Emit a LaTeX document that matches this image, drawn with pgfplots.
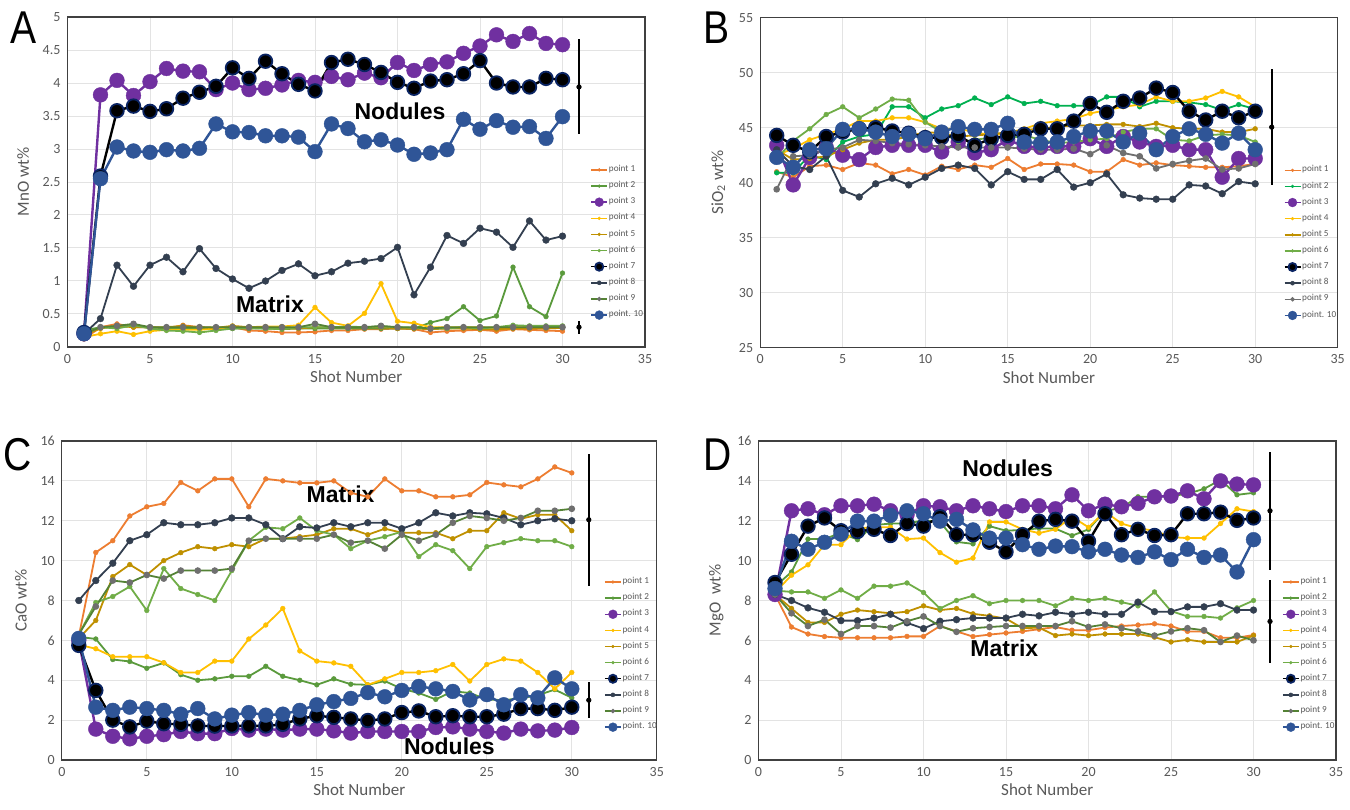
\documentclass[border=0pt]{standalone}
\usepackage{fontspec}
\setmainfont{Carlito}
\newfontfamily\arialf{Liberation Sans}
\usepackage{pgfplots}
\pgfplotsset{compat=1.18}

\definecolor{c1}{HTML}{ED7D31}
\definecolor{c2}{HTML}{5A9A3C}
\definecolor{c2b}{HTML}{00B050}
\definecolor{c3}{HTML}{7030A0}
\definecolor{c4}{HTML}{FFC000}
\definecolor{c5}{HTML}{BF9000}
\definecolor{c6}{HTML}{70AD47}
\definecolor{c7r}{HTML}{0A2463}
\definecolor{c8}{HTML}{333F50}
\definecolor{c9}{HTML}{548235}
\definecolor{c9m}{HTML}{6F6F6F}
\definecolor{c10}{HTML}{2F5597}
\definecolor{gridc}{HTML}{E3E3E3}
\definecolor{axc}{HTML}{404040}
\definecolor{tickc}{HTML}{595959}

\pgfplotsset{
  small/.style={line width=0.9pt, mark=*, mark size=1.2pt, mark options={solid, line width=0.2pt}},
  big/.style={line width=1.2pt, mark=*, mark size=3.7pt, mark options={solid, line width=0.2pt}},
  s1/.style={small, color=c1},
  s2/.style={small, color=c2},
  s3/.style={big, color=c3},
  s4/.style={small, color=c4},
  s5/.style={small, color=c5},
  s6/.style={small, color=c6},
  s7/.style={big, color=black, mark size=3.4pt, mark options={solid, fill=black, draw=c7r, line width=0.9pt}},
  s8/.style={small, color=c8, mark size=1.7pt},
  s9/.style={small, color=c9, mark options={solid, fill=c9m, draw=c9m}},
  s10/.style={big, color=c10},
  ebar/.style={forget plot, only marks, black, mark=*, mark size=1.1pt,
    error bars/.cd, y dir=both, y explicit, error mark=none,
    error bar style={line width=1.2pt, black}},
  panel/.style={
    scale only axis, xmin=0, xmax=35, xtick={0,5,...,35},
    grid=major, major grid style={draw=gridc, line width=0.5pt},
    axis line style={draw=axc, line width=0.7pt},
    major tick length=0pt,
    tick label style={font=\fontsize{7}{8}\selectfont, text=tickc},
    label style={font=\fontsize{8.5}{10}\selectfont, text=tickc},
    /pgf/number format/assume math mode=true,
    xlabel={Shot Number},
    xlabel style={yshift=3pt},
    clip=false,
    legend cell align=left,
    legend style={draw=none, fill=none, font=\fontsize{4.6}{5}\selectfont, text=tickc,
      anchor=north west, row sep=2.4pt, inner sep=0pt, nodes={inner sep=0.5pt}},
    legend image code/.code={\draw[##1, line width=0.7pt, mark repeat=2, mark phase=2,
      every mark/.append style={scale=0.6}] plot coordinates {(0pt,0pt) (4pt,0pt) (8pt,0pt)};}
  }
}

\begin{document}
\begin{tikzpicture}
\path[use as bounding box] (0,0) rectangle (675pt,404.5pt);
\fill[white] (0,0) rectangle (675pt,404.5pt);

\node[font=\arialf\fontsize{23}{23}\selectfont, xscale=0.85] at (12pt,390.5pt) {A};
\node[font=\arialf\fontsize{23}{23}\selectfont, xscale=0.85] at (358.5pt,390.5pt) {B};
\node[font=\arialf\fontsize{23}{23}\selectfont, xscale=0.85] at (9pt,177pt) {C};
\node[font=\arialf\fontsize{23}{23}\selectfont, xscale=0.85] at (359pt,177pt) {D};

% ---------------- A : MnO ----------------
\begin{axis}[panel, at={(33.75pt,231pt)}, anchor=south west,
  width=288.75pt, height=165pt, ymin=0, ymax=5, ytick={0,0.5,...,5},
  ylabel={MnO wt\%},
  legend style={at={(rel axis cs:0.905,0.555)}}]
\addplot[s1] coordinates {(1,0.12)(2,0.30)(3,0.35)(4,0.30)(5,0.30)(6,0.28)(7,0.33)(8,0.30)(9,0.29)(10,0.30)(11,0.25)(12,0.24)(13,0.22)(14,0.22)(15,0.23)(16,0.25)(17,0.25)(18,0.27)(19,0.27)(20,0.28)(21,0.27)(22,0.22)(23,0.24)(24,0.25)(25,0.26)(26,0.24)(27,0.27)(28,0.26)(29,0.25)(30,0.24)};
\addplot[s2] coordinates {(1,0.25)(2,0.30)(3,0.30)(4,0.32)(5,0.30)(6,0.28)(7,0.28)(8,0.28)(9,0.27)(10,0.28)(11,0.28)(12,0.28)(13,0.27)(14,0.28)(15,0.28)(16,0.28)(17,0.28)(18,0.28)(19,0.28)(20,0.28)(21,0.28)(22,0.37)(23,0.43)(24,0.61)(25,0.40)(26,0.47)(27,1.21)(28,0.61)(29,0.46)(30,1.12)};
\addplot[s3] coordinates {(1,0.20)(2,3.82)(3,4.04)(4,3.81)(5,4.02)(6,4.22)(7,4.18)(8,4.17)(9,3.90)(10,4.00)(11,3.90)(12,3.92)(13,3.97)(14,4.04)(15,4.01)(16,4.10)(17,4.05)(18,4.15)(19,4.08)(20,4.31)(21,4.19)(22,4.28)(23,4.32)(24,4.45)(25,4.56)(26,4.73)(27,4.63)(28,4.75)(29,4.60)(30,4.58)};
\addplot[s4] coordinates {(1,0.15)(2,0.20)(3,0.24)(4,0.19)(5,0.24)(6,0.26)(7,0.26)(8,0.26)(9,0.28)(10,0.30)(11,0.30)(12,0.31)(13,0.31)(14,0.33)(15,0.60)(16,0.37)(17,0.32)(18,0.51)(19,0.96)(20,0.39)(21,0.36)(22,0.30)(23,0.30)(24,0.30)(25,0.30)(26,0.29)(27,0.30)(28,0.30)(29,0.29)(30,0.31)};
\addplot[s5] coordinates {(1,0.18)(2,0.28)(3,0.32)(4,0.30)(5,0.30)(6,0.30)(7,0.32)(8,0.30)(9,0.29)(10,0.32)(11,0.30)(12,0.30)(13,0.28)(14,0.28)(15,0.30)(16,0.30)(17,0.30)(18,0.30)(19,0.30)(20,0.28)(21,0.28)(22,0.27)(23,0.28)(24,0.28)(25,0.27)(26,0.27)(27,0.28)(28,0.28)(29,0.28)(30,0.29)};
\addplot[s6] coordinates {(1,0.20)(2,0.30)(3,0.28)(4,0.33)(5,0.28)(6,0.25)(7,0.24)(8,0.22)(9,0.25)(10,0.28)(11,0.29)(12,0.28)(13,0.27)(14,0.30)(15,0.30)(16,0.30)(17,0.31)(18,0.30)(19,0.31)(20,0.30)(21,0.29)(22,0.28)(23,0.28)(24,0.30)(25,0.28)(26,0.30)(27,0.33)(28,0.32)(29,0.32)(30,0.32)};
\addplot[s7] coordinates {(1,0.22)(2,2.59)(3,3.58)(4,3.65)(5,3.57)(6,3.61)(7,3.77)(8,3.86)(9,3.95)(10,4.23)(11,4.07)(12,4.33)(13,4.14)(14,3.98)(15,3.88)(16,4.31)(17,4.36)(18,4.28)(19,4.16)(20,4.01)(21,3.92)(22,4.03)(23,4.05)(24,4.14)(25,4.34)(26,4.00)(27,3.94)(28,3.94)(29,4.07)(30,4.05)};
\addplot[s8] coordinates {(1,0.20)(2,0.43)(3,1.24)(4,0.92)(5,1.24)(6,1.36)(7,1.14)(8,1.49)(9,1.19)(10,1.03)(11,0.89)(12,1.00)(13,1.16)(14,1.26)(15,1.08)(16,1.14)(17,1.27)(18,1.30)(19,1.34)(20,1.51)(21,0.79)(22,1.21)(23,1.69)(24,1.57)(25,1.80)(26,1.74)(27,1.51)(28,1.91)(29,1.62)(30,1.68)};
\addplot[s9] coordinates {(1,0.20)(2,0.30)(3,0.32)(4,0.35)(5,0.30)(6,0.30)(7,0.30)(8,0.30)(9,0.30)(10,0.30)(11,0.30)(12,0.30)(13,0.30)(14,0.30)(15,0.35)(16,0.30)(17,0.30)(18,0.30)(19,0.32)(20,0.30)(21,0.30)(22,0.28)(23,0.30)(24,0.30)(25,0.30)(26,0.30)(27,0.30)(28,0.30)(29,0.30)(30,0.30)};
\addplot[s10] coordinates {(1,0.20)(2,2.55)(3,3.03)(4,2.97)(5,2.95)(6,2.99)(7,2.97)(8,3.01)(9,3.38)(10,3.26)(11,3.25)(12,3.20)(13,3.20)(14,3.18)(15,2.96)(16,3.38)(17,3.31)(18,3.11)(19,3.14)(20,3.06)(21,2.92)(22,2.94)(23,2.99)(24,3.45)(25,3.30)(26,3.43)(27,3.33)(28,3.34)(29,3.16)(30,3.49)};
\addplot[ebar] coordinates {(31,3.94) +- (0,0.72) (31,0.30) +- (0,0.10)};
\legend{point 1,point 2,point 3,point 4,point 5,point 6,point 7,point 8,point 9,point. 10}
\node[font=\arialf\bfseries\fontsize{11.5}{12}\selectfont] at (axis cs:20.15,3.57) {Nodules};
\node[font=\arialf\bfseries\fontsize{11.5}{12}\selectfont] at (axis cs:12.27,0.64) {Matrix};
\end{axis}

% ---------------- B : SiO2 ----------------
\begin{axis}[panel, at={(380.1pt,230.65pt)}, anchor=south west,
  width=288.75pt, height=165pt, ymin=25, ymax=55, ytick={25,30,...,55},
  ylabel={SiO\textsubscript{2} wt\%},
  legend style={at={(rel axis cs:0.906,0.556)}}]
\addplot[s1] coordinates {(1,41.0)(2,40.5)(3,41.5)(4,41.6)(5,41.2)(6,41.8)(7,41.6)(8,40.8)(9,41.2)(10,40.7)(11,41.5)(12,41.2)(13,41.6)(14,41.4)(15,42.2)(16,41.2)(17,41.7)(18,41.7)(19,41.6)(20,41.0)(21,41.0)(22,42.1)(23,41.6)(24,41.8)(25,41.6)(26,41.5)(27,41.4)(28,41.4)(29,41.5)(30,41.7)};
\addplot[s2, color=c2b] coordinates {(1,40.9)(2,40.9)(3,42.5)(4,42.1)(5,43.7)(6,44.2)(7,44.4)(8,46.9)(9,46.9)(10,45.9)(11,46.7)(12,47.0)(13,47.7)(14,47.1)(15,47.8)(16,47.2)(17,47.4)(18,47.0)(19,47.0)(20,47.0)(21,47.8)(22,47.8)(23,46.9)(24,47.4)(25,47.4)(26,47.3)(27,47.1)(28,46.6)(29,47.1)(30,46.7)};
\addplot[s3] coordinates {(1,43.4)(2,39.8)(3,42.3)(4,43.2)(5,42.5)(6,42.1)(7,43.2)(8,43.4)(9,43.4)(10,43.4)(11,42.8)(12,43.7)(13,42.7)(14,43.0)(15,43.9)(16,43.3)(17,43.2)(18,43.3)(19,43.3)(20,44.0)(21,43.3)(22,44.2)(23,43.7)(24,43.3)(25,43.4)(26,43.0)(27,43.0)(28,40.5)(29,42.2)(30,42.2)};
\addplot[s4] coordinates {(1,42.5)(2,43.1)(3,43.9)(4,44.4)(5,44.9)(6,45.6)(7,45.6)(8,45.9)(9,45.9)(10,45.5)(11,44.9)(12,44.9)(13,44.6)(14,44.3)(15,44.5)(16,44.9)(17,45.4)(18,45.6)(19,45.8)(20,46.3)(21,46.6)(22,46.9)(23,47.1)(24,47.8)(25,47.4)(26,47.4)(27,47.7)(28,48.3)(29,47.8)(30,46.9)};
\addplot[s5] coordinates {(1,43.0)(2,42.1)(3,42.2)(4,42.4)(5,43.0)(6,43.6)(7,43.9)(8,43.9)(9,44.2)(10,44.6)(11,44.5)(12,44.2)(13,44.3)(14,44.4)(15,44.6)(16,44.8)(17,44.9)(18,45.1)(19,45.2)(20,45.2)(21,45.3)(22,45.3)(23,45.1)(24,45.4)(25,45.0)(26,44.9)(27,44.9)(28,44.6)(29,44.6)(30,44.9)};
\addplot[s6] coordinates {(1,42.2)(2,43.8)(3,44.9)(4,46.2)(5,46.9)(6,45.9)(7,46.7)(8,47.6)(9,47.5)(10,45.5)(11,44.6)(12,43.7)(13,43.9)(14,44.1)(15,44.0)(16,44.3)(17,43.9)(18,43.6)(19,43.7)(20,43.9)(21,44.0)(22,44.6)(23,44.9)(24,44.9)(25,43.9)(26,43.8)(27,44.3)(28,44.4)(29,44.3)(30,43.7)};
\addplot[s7] coordinates {(1,44.3)(2,43.4)(3,42.8)(4,44.2)(5,44.6)(6,44.9)(7,45.0)(8,44.7)(9,44.5)(10,44.1)(11,44.1)(12,44.3)(13,43.4)(14,44.0)(15,44.3)(16,44.4)(17,44.9)(18,44.9)(19,45.6)(20,47.2)(21,46.4)(22,47.4)(23,47.7)(24,48.6)(25,48.2)(26,46.5)(27,45.7)(28,46.5)(29,45.9)(30,46.5)};
\addplot[s8] coordinates {(1,43.0)(2,41.5)(3,41.2)(4,42.4)(5,39.3)(6,38.7)(7,39.9)(8,40.4)(9,39.8)(10,40.5)(11,41.3)(12,41.6)(13,41.3)(14,39.8)(15,41.0)(16,40.3)(17,40.3)(18,41.2)(19,39.6)(20,40.0)(21,40.8)(22,38.9)(23,38.6)(24,38.5)(25,38.5)(26,39.8)(27,39.7)(28,39.0)(29,40.1)(30,39.9)};
\addplot[s9, color=c9m] coordinates {(1,39.4)(2,42.4)(3,42.5)(4,43.0)(5,43.2)(6,43.9)(7,43.8)(8,43.6)(9,43.5)(10,43.4)(11,43.3)(12,43.2)(13,43.2)(14,43.2)(15,43.2)(16,43.1)(17,43.0)(18,43.0)(19,43.1)(20,42.6)(21,43.4)(22,42.7)(23,42.4)(24,41.3)(25,41.7)(26,42.0)(27,42.2)(28,41.2)(29,41.3)(30,41.7)};
\addplot[s10] coordinates {(1,42.3)(2,41.4)(3,43.0)(4,43.1)(5,44.85)(6,44.9)(7,44.6)(8,44.2)(9,44.4)(10,44.0)(11,44.6)(12,45.1)(13,44.85)(14,44.85)(15,45.4)(16,43.7)(17,43.6)(18,43.7)(19,44.2)(20,44.7)(21,44.7)(22,43.7)(23,44.5)(24,43.0)(25,44.2)(26,44.9)(27,44.4)(28,43.6)(29,44.5)(30,43.0)};
\addplot[ebar] coordinates {(31,45.05) +- (0,5.25)};
\legend{point 1,point 2,point 3,point 4,point 5,point 6,point 7,point 8,point 9,point. 10}
\end{axis}

% ---------------- C : CaO ----------------
\begin{axis}[panel, at={(30.9pt,24.5pt)}, anchor=south west,
  width=297.5pt, height=159.5pt, ymin=0, ymax=16, ytick={0,2,...,16},
  ylabel={CaO wt\%},
  legend style={at={(rel axis cs:0.911,0.577)}}]
\addplot[s1] coordinates {(1,6.2)(2,10.41)(3,11.0)(4,12.24)(5,12.7)(6,12.87)(7,13.92)(8,13.5)(9,14.1)(10,14.1)(11,12.7)(12,14.1)(13,14.0)(14,13.9)(15,13.9)(16,14.0)(17,13.4)(18,13.2)(19,14.1)(20,13.5)(21,13.5)(22,13.2)(23,13.2)(24,13.3)(25,13.92)(26,13.8)(27,13.7)(28,14.1)(29,14.7)(30,14.4)};
\addplot[s2] coordinates {(1,6.18)(2,6.07)(3,5.04)(4,4.94)(5,4.6)(6,4.87)(7,4.28)(8,4.0)(9,4.07)(10,4.2)(11,4.2)(12,4.7)(13,4.2)(14,4.0)(15,3.77)(16,4.07)(17,3.8)(18,3.77)(19,3.96)(20,3.57)(21,3.36)(22,3.04)(23,3.45)(24,3.36)(25,3.04)(26,3.0)(27,3.1)(28,3.25)(29,3.53)(30,3.12)};
\addplot[s3] coordinates {(1,6.0)(2,1.55)(3,1.19)(4,1.06)(5,1.19)(6,1.27)(7,1.43)(8,1.32)(9,1.32)(10,1.58)(11,1.5)(12,1.55)(13,1.5)(14,1.55)(15,1.55)(16,1.46)(17,1.35)(18,1.43)(19,1.43)(20,1.43)(21,1.43)(22,1.63)(23,1.66)(24,1.55)(25,1.43)(26,1.35)(27,1.55)(28,1.46)(29,1.5)(30,1.63)};
\addplot[s4] coordinates {(1,5.78)(2,5.58)(3,5.18)(4,5.18)(5,5.18)(6,4.88)(7,4.39)(8,4.39)(9,4.96)(10,4.96)(11,6.07)(12,6.77)(13,7.6)(14,5.47)(15,4.96)(16,4.87)(17,4.7)(18,3.77)(19,4.07)(20,4.39)(21,4.39)(22,4.48)(23,4.79)(24,3.96)(25,4.79)(26,5.07)(27,4.96)(28,4.39)(29,3.57)(30,4.39)};
\addplot[s5] coordinates {(1,6.1)(2,7.0)(3,9.2)(4,9.8)(5,9.28)(6,10.0)(7,10.4)(8,10.7)(9,10.6)(10,10.8)(11,10.7)(12,11.1)(13,11.1)(14,11.2)(15,11.3)(16,11.6)(17,11.6)(18,11.3)(19,11.6)(20,11.4)(21,11.4)(22,11.4)(23,11.1)(24,11.5)(25,11.5)(26,12.4)(27,12.1)(28,12.3)(29,12.3)(30,11.5)};
\addplot[s6] coordinates {(1,6.3)(2,7.9)(3,8.2)(4,8.7)(5,7.5)(6,9.6)(7,8.6)(8,8.3)(9,8.0)(10,9.5)(11,11.0)(12,11.67)(13,11.6)(14,12.14)(15,11.5)(16,11.3)(17,10.6)(18,11.0)(19,11.2)(20,11.45)(21,10.2)(22,10.8)(23,10.5)(24,9.6)(25,10.7)(26,10.9)(27,11.1)(28,11.0)(29,11.0)(30,10.7)};
\addplot[s7] coordinates {(1,5.75)(2,3.49)(3,2.0)(4,1.66)(5,1.95)(6,1.82)(7,1.79)(8,1.71)(9,1.7)(10,1.71)(11,1.71)(12,1.71)(13,1.79)(14,2.06)(15,2.22)(16,2.14)(17,2.06)(18,1.98)(19,2.06)(20,2.38)(21,2.46)(22,2.17)(23,2.22)(24,2.17)(25,2.17)(26,2.3)(27,2.58)(28,2.58)(29,2.49)(30,2.65)};
\addplot[s8] coordinates {(1,8.0)(2,9.0)(3,9.87)(4,11.0)(5,11.3)(6,11.9)(7,11.8)(8,11.8)(9,11.9)(10,12.14)(11,12.14)(12,11.8)(13,11.1)(14,11.7)(15,11.64)(16,11.9)(17,11.7)(18,11.9)(19,11.9)(20,11.6)(21,11.9)(22,12.4)(23,12.24)(24,12.4)(25,12.35)(26,12.14)(27,11.8)(28,12.0)(29,12.1)(30,12.0)};
\addplot[s9] coordinates {(1,6.3)(2,7.7)(3,9.0)(4,8.9)(5,9.28)(6,9.1)(7,9.5)(8,9.5)(9,9.5)(10,9.6)(11,11.0)(12,11.1)(13,11.1)(14,11.1)(15,11.1)(16,11.3)(17,10.9)(18,11.0)(19,10.6)(20,11.3)(21,11.0)(22,11.3)(23,11.9)(24,12.24)(25,12.14)(26,12.0)(27,12.14)(28,12.5)(29,12.5)(30,12.6)};
\addplot[s10] coordinates {(1,6.1)(2,2.65)(3,2.49)(4,2.65)(5,2.58)(6,2.49)(7,2.3)(8,2.58)(9,2.06)(10,2.25)(11,2.38)(12,2.25)(13,2.3)(14,2.49)(15,2.77)(16,2.93)(17,3.09)(18,3.38)(19,3.17)(20,3.49)(21,3.69)(22,3.57)(23,3.44)(24,3.01)(25,3.28)(26,2.77)(27,3.28)(28,3.12)(29,4.12)(30,3.57)};
\addplot[ebar] coordinates {(31,12.05) +- (0,3.3) (31,3.0) +- (0,0.9)};
\legend{point 1,point 2,point 3,point 4,point 5,point 6,point 7,point 8,point 9,point. 10}
\node[font=\arialf\bfseries\fontsize{11.5}{12}\selectfont] at (axis cs:16.4,13.34) {Matrix};
\node[font=\arialf\bfseries\fontsize{11.5}{12}\selectfont] at (axis cs:22.8,0.7) {Nodules};
\end{axis}

% ---------------- D : MgO ----------------
\begin{axis}[panel, at={(379.25pt,24.5pt)}, anchor=south west,
  width=288.75pt, height=159.5pt, ymin=0, ymax=16, ytick={0,2,...,16},
  ylabel={MgO\ \ wt\%},
  legend style={at={(rel axis cs:0.906,0.577)}}]
\addplot[s1] coordinates {(1,8.3)(2,6.67)(3,6.32)(4,6.19)(5,6.13)(6,6.13)(7,6.13)(8,6.13)(9,6.2)(10,6.2)(11,6.72)(12,6.45)(13,6.19)(14,6.29)(15,6.37)(16,6.45)(17,6.56)(18,6.67)(19,6.51)(20,6.51)(21,6.64)(22,6.72)(23,6.77)(24,6.83)(25,6.72)(26,6.45)(27,6.45)(28,6.13)(29,6.13)(30,6.27)};
\addplot[s2] coordinates {(1,8.7)(2,9.43)(3,11.08)(4,11.08)(5,11.4)(6,11.05)(7,11.78)(8,11.86)(9,11.86)(10,12.02)(11,11.94)(12,10.94)(13,10.84)(14,11.73)(15,11.5)(16,11.54)(17,11.62)(18,11.6)(19,11.25)(20,11.57)(21,12.5)(22,12.64)(23,13.2)(24,13.2)(25,13.24)(26,13.35)(27,13.6)(28,14.05)(29,13.3)(30,13.4)};
\addplot[s3] coordinates {(1,8.3)(2,12.5)(3,12.6)(4,12.3)(5,12.75)(6,12.75)(7,12.83)(8,12.5)(9,12.3)(10,12.75)(11,12.7)(12,12.5)(13,12.75)(14,12.6)(15,12.46)(16,12.75)(17,12.75)(18,12.6)(19,13.3)(20,12.5)(21,12.83)(22,12.7)(23,12.87)(24,13.2)(25,13.24)(26,13.5)(27,13.1)(28,14.0)(29,13.84)(30,13.8)};
\addplot[s4] coordinates {(1,8.4)(2,9.27)(3,9.79)(4,10.8)(5,10.8)(6,11.62)(7,11.67)(8,11.67)(9,11.08)(10,11.13)(11,10.4)(12,9.92)(13,10.13)(14,11.94)(15,11.94)(16,11.57)(17,11.38)(18,11.57)(19,12.2)(20,11.67)(21,12.46)(22,11.86)(23,11.62)(24,11.5)(25,11.18)(26,11.13)(27,11.13)(28,11.86)(29,12.6)(30,12.46)};
\addplot[s5] coordinates {(1,8.3)(2,7.6)(3,6.9)(4,6.9)(5,7.31)(6,7.52)(7,7.44)(8,7.36)(9,7.44)(10,7.73)(11,7.52)(12,7.6)(13,7.33)(14,7.23)(15,7.09)(16,6.61)(17,6.64)(18,6.24)(19,6.32)(20,6.24)(21,6.32)(22,6.32)(23,6.32)(24,6.16)(25,5.92)(26,6.03)(27,5.92)(28,5.92)(29,5.92)(30,6.24)};
\addplot[s6] coordinates {(1,8.5)(2,8.43)(3,8.43)(4,8.11)(5,8.53)(6,8.11)(7,8.72)(8,8.72)(9,8.88)(10,8.4)(11,7.6)(12,8.0)(13,8.24)(14,7.84)(15,8.0)(16,8.0)(17,8.0)(18,7.73)(19,8.11)(20,8.0)(21,8.11)(22,7.92)(23,7.73)(24,8.43)(25,7.47)(26,7.2)(27,7.2)(28,7.12)(29,7.63)(30,8.0)};
\addplot[s7] coordinates {(1,8.9)(2,10.32)(3,11.73)(4,12.14)(5,11.5)(6,11.46)(7,11.57)(8,11.26)(9,11.86)(10,11.73)(11,12.2)(12,11.3)(13,11.3)(14,10.92)(15,10.44)(16,11.3)(17,11.98)(18,12.07)(19,11.98)(20,10.97)(21,12.35)(22,11.3)(23,11.57)(24,11.26)(25,11.3)(26,12.35)(27,12.35)(28,12.43)(29,12.02)(30,12.14)};
\addplot[s8] coordinates {(1,8.3)(2,8.0)(3,7.63)(4,7.41)(5,6.99)(6,6.99)(7,7.12)(8,7.31)(9,6.88)(10,6.59)(11,6.96)(12,7.04)(13,7.12)(14,7.12)(15,7.12)(16,7.31)(17,7.23)(18,7.41)(19,7.31)(20,7.41)(21,7.31)(22,7.31)(23,7.92)(24,7.44)(25,7.44)(26,7.68)(27,7.68)(28,7.84)(29,7.52)(30,7.52)};
\addplot[s9] coordinates {(1,8.3)(2,7.36)(3,6.72)(4,7.04)(5,6.32)(6,6.72)(7,6.72)(8,6.64)(9,6.96)(10,7.2)(11,6.72)(12,6.43)(13,6.61)(14,6.67)(15,6.72)(16,6.72)(17,6.72)(18,6.72)(19,6.96)(20,6.67)(21,6.8)(22,6.61)(23,6.45)(24,6.24)(25,6.45)(26,6.61)(27,6.51)(28,5.92)(29,6.24)(30,6.0)};
\addplot[s10] coordinates {(1,8.6)(2,10.97)(3,10.57)(4,10.92)(5,11.33)(6,11.98)(7,11.98)(8,12.27)(9,12.5)(10,12.35)(11,11.98)(12,12.07)(13,11.54)(14,11.13)(15,11.13)(16,10.8)(17,10.57)(18,10.73)(19,10.7)(20,10.44)(21,10.57)(22,10.28)(23,10.16)(24,10.44)(25,10.05)(26,10.57)(27,10.16)(28,10.28)(29,9.43)(30,11.05)};
\addplot[ebar] coordinates {(31,12.5) +- (0,2.95) (31,6.95) +- (0,2.1)};
\legend{point 1,point 2,point 3,point 4,point 5,point 6,point 7,point 8,point 9,point. 10}
\node[font=\arialf\bfseries\fontsize{11.5}{12}\selectfont] at (axis cs:15.1,14.64) {Nodules};
\node[font=\arialf\bfseries\fontsize{11.5}{12}\selectfont] at (axis cs:14.9,5.62) {Matrix};
\end{axis}
\end{tikzpicture}
\end{document}
